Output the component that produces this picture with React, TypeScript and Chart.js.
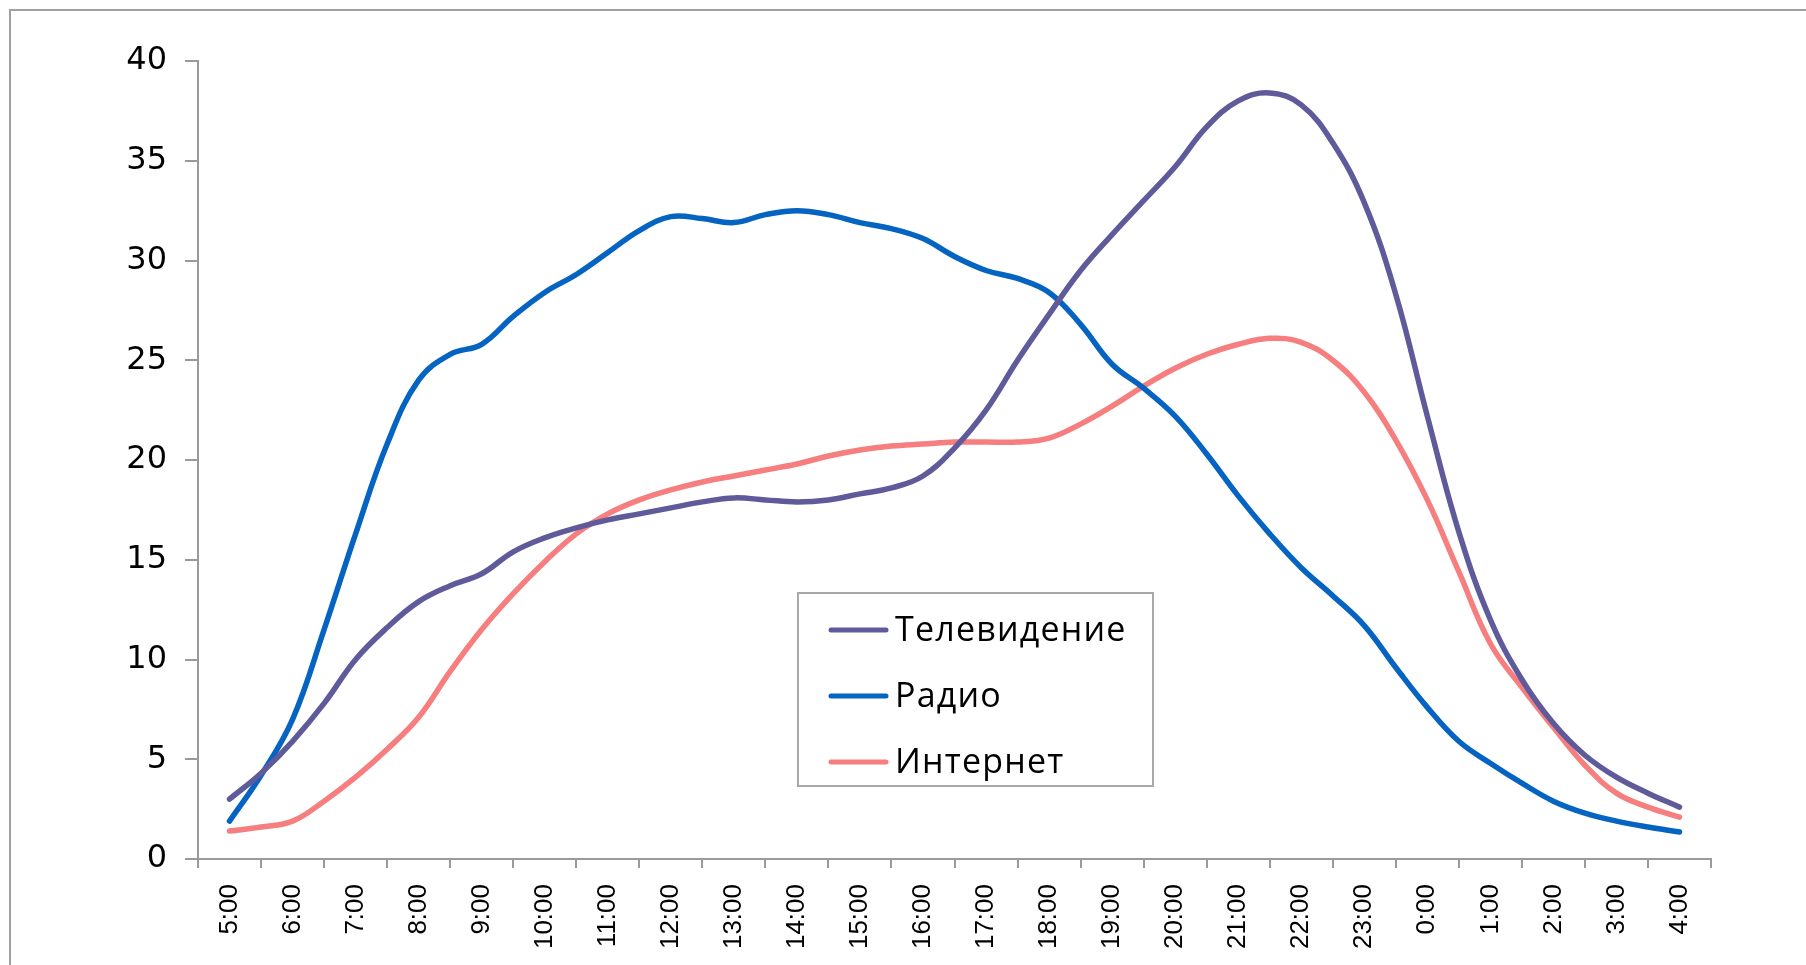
import React, { useEffect, useRef } from "react";
import { Chart, registerables } from "chart.js";

Chart.register(...registerables);

// Hour labels on the category axis
const hourLabels = [
  "5:00", "6:00", "7:00", "8:00", "9:00", "10:00", "11:00", "12:00",
  "13:00", "14:00", "15:00", "16:00", "17:00", "18:00", "19:00", "20:00",
  "21:00", "22:00", "23:00", "0:00", "1:00", "2:00", "3:00", "4:00",
];

// Half-hour readings, 5:00 ... 4:00
const tvValues = [
  3.0, 4.3, 5.9, 7.8, 10.0, 11.6, 12.9, 13.7, 14.3, 15.4, 16.1, 16.6,
  17.0, 17.3, 17.6, 17.9, 18.1, 18.0, 17.9, 18.0, 18.3, 18.6, 19.2, 20.6,
  22.5, 25.0, 27.3, 29.5, 31.3, 33.0, 34.7, 36.7, 38.0, 38.4, 37.8, 35.9,
  32.9, 28.3, 22.2, 16.4, 12.0, 9.0, 6.8, 5.2, 4.1, 3.3, 2.6,
];

const radioValues = [
  1.9, 4.2, 7.0, 11.5, 16.3, 20.8, 24.0, 25.3, 25.8, 27.2, 28.4, 29.3,
  30.4, 31.5, 32.2, 32.1, 31.9, 32.3, 32.5, 32.3, 31.9, 31.6, 31.1, 30.2,
  29.5, 29.1, 28.4, 26.8, 24.8, 23.6, 22.2, 20.3, 18.2, 16.3, 14.6, 13.2,
  11.7, 9.6, 7.6, 5.9, 4.8, 3.8, 2.9, 2.3, 1.9, 1.6, 1.35,
];

const internetValues = [
  1.4, 1.6, 1.9, 2.9, 4.1, 5.5, 7.1, 9.4, 11.5, 13.3, 14.9, 16.3,
  17.3, 18.0, 18.5, 18.9, 19.2, 19.5, 19.8, 20.2, 20.5, 20.7, 20.8, 20.9,
  20.9, 20.9, 21.1, 21.8, 22.7, 23.7, 24.6, 25.3, 25.8, 26.1, 25.9, 25.0,
  23.4, 21.0, 18.0, 14.4, 10.8, 8.6, 6.6, 4.7, 3.3, 2.6, 2.1,
];

const seriesNames = ["Телевидение", "Радио", "Интернет"];
const seriesColors = ["#5F5B9B", "#0563C1", "#F67E7E"];

const yMin = 0;
const yMax = 40;
const yStep = 5;

const toPoints = (vals: number[]) => vals.map((v, i) => ({ x: i * 0.5, y: v }));

const boxLegend = {
  id: "boxLegend",
  afterDraw(chart: any) {
    const ctx = chart.ctx as CanvasRenderingContext2D;
    ctx.save();
    const bx = 798, by = 593, bw = 355, bh = 193;
    ctx.fillStyle = "#ffffff";
    ctx.fillRect(bx, by, bw, bh);
    ctx.strokeStyle = "#a8a8a8";
    ctx.lineWidth = 2;
    ctx.strokeRect(bx, by, bw, bh);
    ctx.font = "34px 'Open Sans'";
    (ctx as any).letterSpacing = "1.2px";
    ctx.textBaseline = "middle";
    ctx.textAlign = "left";
    chart.data.datasets.forEach((ds: any, i: number) => {
      const y = 630 + i * 66;
      ctx.strokeStyle = ds.borderColor;
      ctx.lineWidth = 5;
      ctx.lineCap = "round";
      ctx.beginPath();
      ctx.moveTo(831, y);
      ctx.lineTo(886, y);
      ctx.stroke();
      ctx.fillStyle = "#000";
      ctx.fillText(ds.label, 895, y + 1);
    });
    ctx.restore();
  },
};

export default function App() {
  const ref = useRef<HTMLCanvasElement>(null);

  useEffect(() => {
    if (!ref.current) return;
    const series = [tvValues, radioValues, internetValues];
    const chart = new Chart(ref.current, {
      type: "line",
      data: {
        datasets: series.map((vals, i) => ({
          label: seriesNames[i],
          data: toPoints(vals),
          borderColor: seriesColors[i],
          backgroundColor: seriesColors[i],
          borderWidth: 5.5,
          borderCapStyle: "round",
          borderJoinStyle: "round",
          pointRadius: 0,
          tension: 0.4,
          fill: false,
        })),
      },
      options: {
        animation: false,
        responsive: false,
        devicePixelRatio: 1,
        layout: { padding: { left: 0, right: 95, top: 61, bottom: 0 } },
        plugins: {
          legend: { display: false },
          tooltip: { enabled: false },
          title: { display: false },
        },
        scales: {
          x: {
            type: "linear",
            min: -0.5,
            max: hourLabels.length - 0.5,
            afterBuildTicks: (scale: any) => {
              const t = [];
              for (let k = 0; k <= hourLabels.length * 2; k++) t.push({ value: -0.5 + k * 0.5 });
              scale.ticks = t;
            },
            afterFit: (scale: any) => {
              scale.height = 106;
            },
            grid: {
              drawOnChartArea: false,
              drawTicks: true,
              tickLength: 9,
              lineWidth: 2,
              color: (c: any) =>
                c.tick && Number.isInteger(c.tick.value) ? "rgba(0,0,0,0)" : "#9a9a9a",
            },
            border: { display: true, color: "#9a9a9a", width: 2 },
            ticks: {
              autoSkip: false,
              minRotation: 90,
              maxRotation: 90,
              padding: 16,
              color: "#000",
              font: { family: "'Liberation Sans'", size: 26 },
              callback: (v: any) => {
                const n = Number(v);
                return Number.isInteger(n) && n >= 0 && n < hourLabels.length ? hourLabels[n] : "";
              },
            },
          },
          y: {
            min: yMin,
            max: yMax,
            afterFit: (scale: any) => {
              scale.width = 198;
            },
            grid: {
              drawOnChartArea: false,
              drawTicks: true,
              tickLength: 13,
              lineWidth: 2,
              color: "#9a9a9a",
            },
            border: { display: true, color: "#9a9a9a", width: 2 },
            ticks: {
              stepSize: yStep,
              padding: 18,
              color: "#000",
              font: { family: "'DejaVu Sans'", size: 32 },
            },
          },
        },
      },
      plugins: [boxLegend],
    });
    return () => chart.destroy();
  }, []);

  return (
    <div style={{ position: "fixed", left: 0, top: 0, width: 1806, height: 965, background: "#fff" }}>
      <div
        style={{
          position: "absolute",
          left: 9,
          top: 9,
          right: -10,
          bottom: -10,
          borderTop: "2px solid #a0a0a0",
          borderLeft: "2px solid #a0a0a0",
        }}
      />
      <canvas ref={ref} width={1806} height={965} style={{ position: "absolute", left: 0, top: 0 }} />
    </div>
  );
}
